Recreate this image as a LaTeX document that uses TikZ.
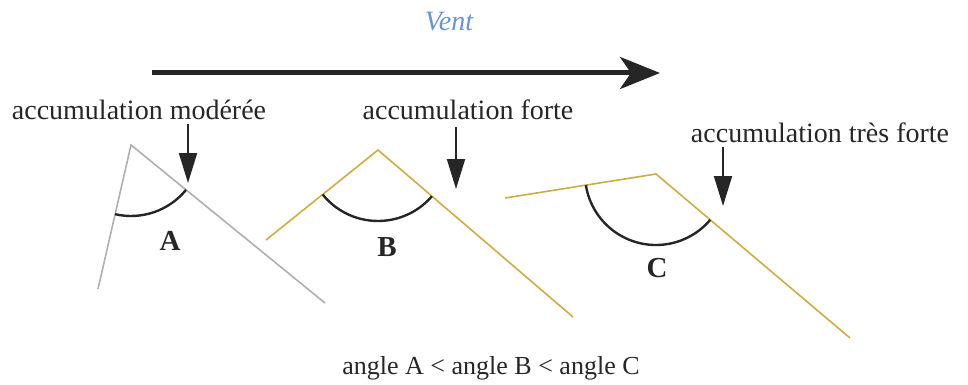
\documentclass[tikz,border=0pt]{standalone}
\usepackage{fontspec}
\setmainfont{Liberation Serif}
\usetikzlibrary{arrows.meta}
\definecolor{ventblue}{RGB}{105,148,205}
\definecolor{gold}{RGB}{205,172,70}
\definecolor{lgray}{RGB}{175,175,175}
\begin{document}
\begin{tikzpicture}[x=1pt,y=-1pt,
  lbl/.style={font=\fontsize{28}{32}\selectfont, text=black!85, inner sep=0pt},
  ang/.style={font=\fontsize{29}{32}\selectfont\bfseries, text=black!85, inner sep=0pt},
  arcline/.style={line width=2.4pt, black!85},
  downarrow/.style={line width=2pt, black!85, -{Triangle[length=30pt,width=18pt]}},
  wall/.style={line width=1.6pt}]
\useasboundingbox (0,0) rectangle (968,385);
% wind
\node[font=\fontsize{28}{30}\selectfont\itshape, text=ventblue, inner sep=0pt] (vent) at (449,22) {Vent};
\coordinate (w1) at (152,73);
\coordinate (w2) at (660,73);
\draw[line width=5pt, black!85, -{Stealth[length=40pt,width=32pt,inset=11pt]}] (w1) -- (w2);
% figure A
\coordinate (pA) at (131,145);
\coordinate (eAl) at (98,289);
\coordinate (eAr) at (325,303);
\draw[wall, lgray] (eAl) -- (pA) -- (eAr);
\draw[arcline] (pA) ++(102.9:71) arc[start angle=102.9, end angle=39.2, radius=71];
\node[ang] (labA) at (170,241) {A};
\node[lbl] (tA) at (139,110) {accumulation modérée};
\coordinate (aA1) at (188,124);
\coordinate (aA2) at (188,183);
\draw[downarrow] (aA1) -- (aA2);
% figure B
\coordinate (pB) at (378,150);
\coordinate (eBl) at (266,240);
\coordinate (eBr) at (573,317);
\draw[wall, gold] (eBl) -- (pB) -- (eBr);
\draw[arcline] (pB) ++(141.2:71) arc[start angle=141.2, end angle=40.6, radius=71];
\node[ang] (labB) at (387,247) {B};
\node[lbl] (tB) at (468,110) {accumulation forte};
\coordinate (aB1) at (456,127);
\coordinate (aB2) at (456,189);
\draw[downarrow] (aB1) -- (aB2);
% figure C
\coordinate (pC) at (656,174);
\coordinate (eCl) at (505,198);
\coordinate (eCr) at (850,338);
\draw[wall, gold] (eCl) -- (pC) -- (eCr);
\draw[arcline] (pC) ++(171:71) arc[start angle=171, end angle=40.2, radius=71];
\node[ang] (labC) at (657,268) {C};
\node[lbl] (tC) at (820,133) {accumulation très forte};
\coordinate (aC1) at (723,147);
\coordinate (aC2) at (723,206);
\draw[downarrow] (aC1) -- (aC2);
% bottom caption
\node[font=\fontsize{26}{30}\selectfont, text=black!85, inner sep=0pt] (cap) at (491,368) {angle A < angle B < angle C};
\end{tikzpicture}
\end{document}
